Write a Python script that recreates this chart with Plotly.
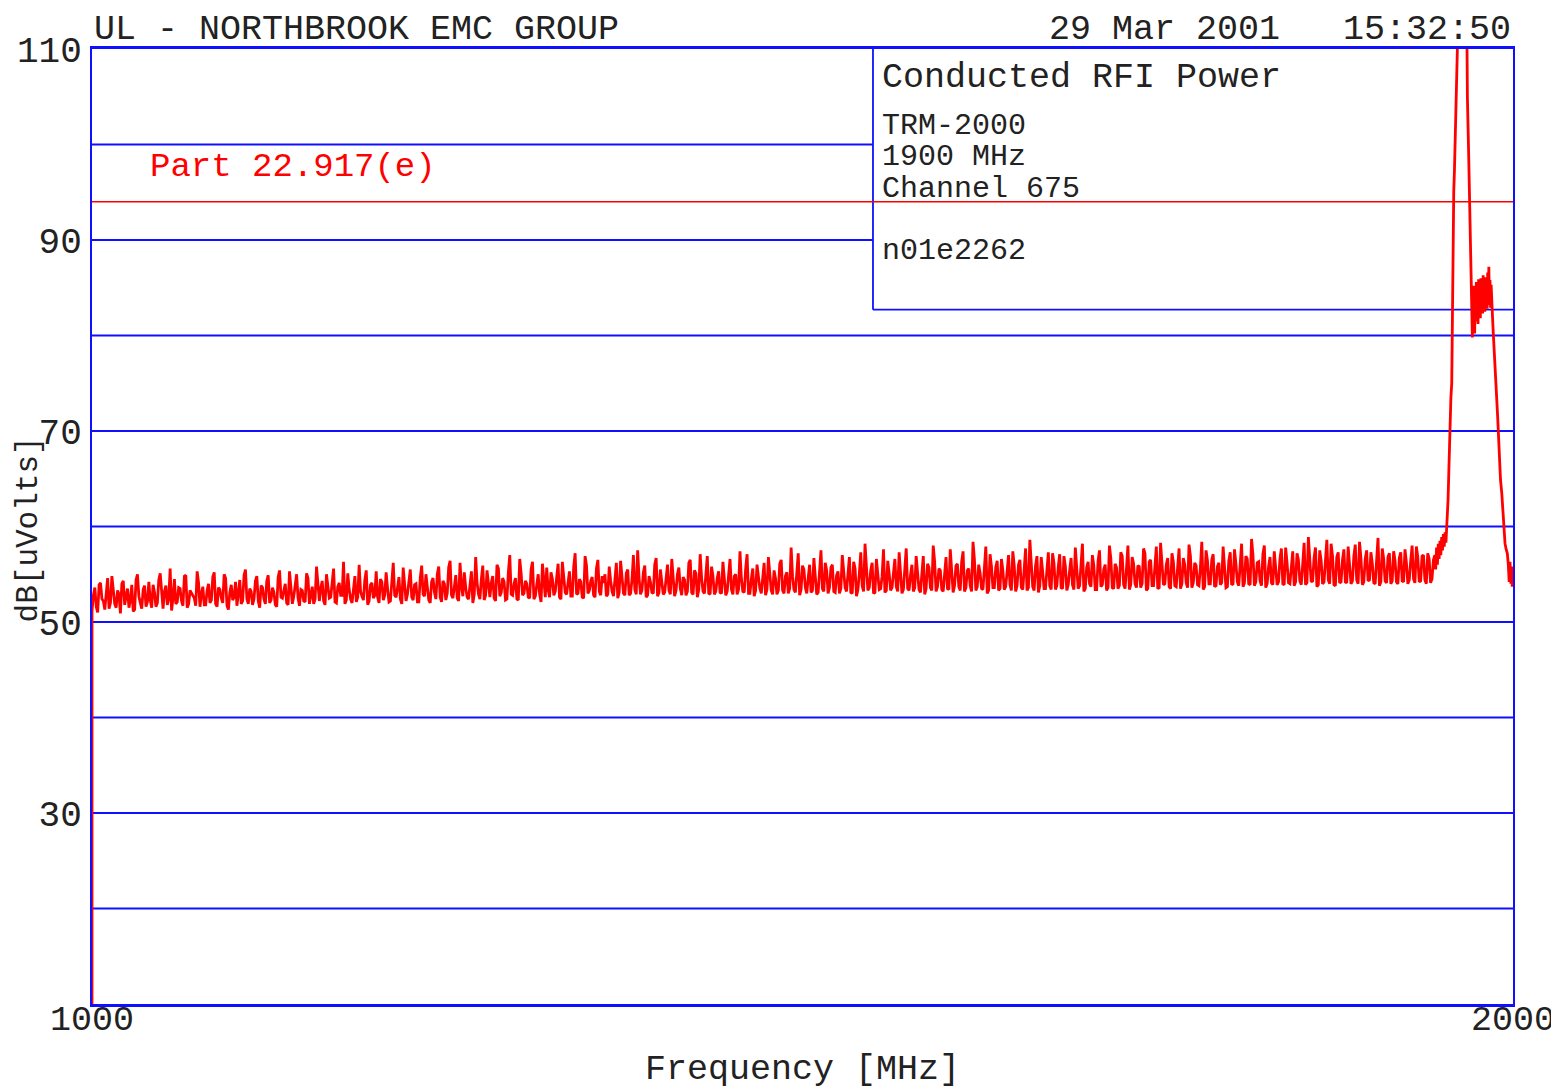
import plotly.graph_objects as go

# ---------------- data ----------------
# sweep start point (trace begins at bottom of the screen)
start_freq = [1000.0]
start_db = [10.0]

# noise floor 1000 .. 1944 MHz, readings at even MHz
noise_start_mhz = 1000.0
noise_step_mhz = 2.0
noise_db_even = [
    51.2, 53.6, 51.0, 54.1, 52.2, 53.0, 51.4, 54.8, 51.9, 53.3, 50.9, 54.3, 52.6, 51.5, 53.9, 51.3, 55.0, 52.0, 53.4, 51.6,
    54.2, 51.5, 53.1, 52.0, 55.1, 51.4, 53.8, 52.4, 51.2, 54.5, 52.1, 53.5, 51.7, 54.9, 51.9, 53.0, 52.5, 55.3, 51.6, 53.7,
    51.8, 54.0, 52.3, 55.2, 51.6, 53.4, 52.0, 54.6, 51.3, 53.9, 52.6, 51.7, 54.4, 52.2, 55.5, 51.9, 53.2, 52.4, 54.8, 51.5,
    53.6, 51.9, 54.9, 52.3, 53.1, 51.6, 55.4, 52.5, 54.0, 51.8, 53.7, 52.7, 55.0, 51.7, 53.3, 52.1, 54.6, 52.9, 51.9, 55.8,
    52.2, 54.3, 51.8, 53.8, 52.6, 55.6, 52.0, 54.1, 52.8, 51.9, 55.1, 52.4, 53.6, 52.1, 56.0, 52.7, 54.4, 51.8, 53.9, 52.5,
    55.3, 52.0, 54.2, 52.8, 53.5, 52.2, 56.2, 52.6, 54.7, 51.9, 53.8, 52.9, 55.5, 52.3, 54.0, 52.1, 55.9, 52.7, 53.4, 52.0,
    54.6, 52.4, 55.8, 52.1, 54.0, 53.0, 56.4, 52.5, 54.9, 52.2, 53.7, 55.2, 52.6, 54.3, 52.0, 56.8, 52.9, 54.5, 52.3, 55.4,
    52.6, 54.8, 52.2, 55.6, 53.1, 54.2, 52.4, 57.0, 52.8, 54.6, 52.3, 55.1, 53.0, 54.0, 52.5, 56.3, 52.7, 55.0, 52.1, 54.4,
    55.7, 52.6, 54.5, 53.2, 56.1, 52.4, 54.9, 52.9, 55.3, 52.7, 57.2, 53.0, 54.2, 52.5, 55.9, 53.3, 54.7, 52.6, 56.5, 52.8,
    54.1, 52.7, 55.8, 53.2, 54.6, 52.5, 56.4, 53.0, 55.1, 52.8, 54.4, 53.4, 57.5, 52.9, 55.2, 52.6, 54.8, 53.1, 56.0, 52.7,
    55.5, 52.9, 54.3, 53.3, 56.6, 52.7, 55.0, 53.5, 54.7, 52.8, 56.2, 53.1, 55.4, 52.6, 57.1, 53.2, 54.9, 53.0, 55.8, 52.9,
    54.6, 53.1, 56.3, 52.8, 55.2, 53.4, 54.8, 52.9, 57.4, 53.2, 55.6, 53.0, 54.5, 52.7, 56.0, 53.5, 55.1, 52.8, 56.8, 53.3,
    55.4, 52.9, 56.1, 53.3, 54.8, 53.0, 57.8, 53.4, 55.3, 52.8, 55.9, 53.6, 54.6, 53.1, 56.7, 52.9, 55.0, 53.5, 56.2, 53.0,
    55.7, 53.2, 54.9, 53.0, 57.0, 53.6, 55.5, 53.1, 56.3, 52.7, 55.1, 53.8, 58.2, 53.3, 55.4, 53.0, 56.6, 53.4, 54.8, 53.1,
    56.4, 53.3, 55.2, 53.7, 57.3, 53.0, 55.8, 53.5, 54.9, 53.2, 56.9, 53.4, 55.3, 52.9, 56.1, 53.6, 58.0, 53.2, 55.6, 53.4,
    55.0, 53.5, 57.6, 53.1, 55.9, 53.7, 56.3, 53.2, 55.4, 53.8, 58.4, 53.3, 56.0, 53.5, 55.2, 53.0, 57.1, 53.6, 55.7, 53.3,
    56.6, 53.4, 55.3, 53.9, 57.4, 53.2, 56.0, 53.6, 55.5, 53.3, 58.6, 53.7, 55.9, 53.1, 56.8, 53.5, 55.2, 53.8, 57.2, 53.4,
    55.8, 53.6, 56.9, 53.3, 55.4, 53.9, 57.8, 53.5, 56.2, 53.2, 55.7, 54.0, 57.0, 53.4, 56.4, 53.7, 55.5, 53.3, 58.0, 53.6,
    56.1, 53.5, 57.3, 53.9, 55.6, 53.4, 56.8, 54.0, 55.9, 53.6, 57.7, 53.3, 56.3, 53.8, 55.8, 53.5, 58.3, 53.9, 56.0, 53.7,
    57.2, 53.8, 55.9, 53.5, 56.7, 54.1, 58.1, 53.6, 56.2, 53.9, 55.7, 53.4, 57.5, 54.0, 56.5, 53.7, 55.8, 53.9, 57.9, 53.6,
    56.4, 53.9, 57.6, 54.2, 55.9, 53.7, 56.9, 54.0, 58.7, 53.8, 56.2, 54.3, 57.1, 53.6, 55.8, 54.1, 57.4, 53.9, 56.6, 54.0,
    57.8, 54.1, 56.3, 53.8, 57.2, 54.3, 56.0, 53.9, 58.9, 54.2, 56.7, 53.7, 57.5, 54.0, 56.1, 54.4, 58.2, 53.9, 56.8, 54.1,
    56.5, 54.2, 57.9, 54.0, 56.9, 54.4, 58.4, 53.9, 56.6, 54.3, 57.3, 54.1, 56.2, 53.8, 57.7, 54.3, 56.8, 54.0, 57.4, 54.2,
    56.7, 54.3, 57.6, 54.0, 56.4, 54.5, 57.9, 54.2, 56.9, 54.4, 57.2, 54.1, 56.5,
]
# noise floor readings at odd MHz, 1001 .. 1943
noise_db_odd = [
    52.8, 51.6, 53.9, 52.4, 51.3, 54.6, 52.0, 53.2, 51.5, 52.9, 54.0, 51.8, 53.5, 52.3, 51.1, 54.4, 52.7, 51.4, 53.8, 52.1,
    52.3, 53.9, 51.6, 54.4, 52.7, 53.2, 51.8, 55.6, 52.5, 51.9, 53.6, 52.2, 54.8, 51.5, 53.3, 52.8, 51.7, 54.1, 52.9, 51.8,
    53.3, 52.0, 54.7, 51.9, 53.6, 52.5, 55.0, 51.7, 53.1, 52.3, 54.2, 53.0, 51.9, 54.9, 52.4, 53.5, 51.8, 54.3, 52.2, 53.8,
    52.4, 54.3, 52.0, 53.6, 51.8, 54.7, 52.6, 53.3, 52.0, 55.3, 51.9, 54.1, 52.5, 53.4, 52.2, 55.1, 51.9, 53.7, 52.4, 54.0,
    53.5, 52.2, 55.0, 52.5, 54.1, 52.1, 53.7, 52.8, 56.3, 52.3, 53.4, 52.0, 54.8, 52.6, 53.2, 52.3, 55.4, 52.2, 54.1, 52.8,
    52.6, 54.5, 52.3, 55.2, 52.1, 54.0, 52.8, 53.6, 52.4, 55.7, 52.2, 54.3, 52.6, 53.9, 52.1, 54.6, 52.9, 55.0, 52.3, 54.2,
    53.1, 55.0, 52.6, 54.3, 52.3, 55.7, 52.8, 54.0, 52.5, 56.2, 52.7, 53.6, 52.4, 55.3, 52.9, 54.1, 52.4, 55.9, 52.8, 53.8,
    54.1, 52.5, 56.0, 52.7, 54.6, 52.3, 55.2, 52.9, 54.0, 52.4, 56.6, 52.8, 54.3, 52.6, 55.5, 52.4, 53.9, 52.9, 56.1, 52.6,
    53.4, 55.2, 52.8, 54.7, 52.6, 56.3, 53.1, 54.2, 52.7, 55.8, 52.9, 54.5, 52.6, 56.9, 53.0, 54.3, 52.8, 55.6, 53.2, 54.8,
    55.0, 52.9, 54.3, 52.7, 56.2, 53.1, 54.8, 52.8, 55.5, 53.0, 57.0, 52.9, 54.6, 53.3, 55.9, 52.8, 54.2, 53.0, 56.7, 53.1,
    54.2, 53.1, 56.0, 52.9, 54.9, 53.3, 55.7, 52.8, 54.4, 53.2, 56.5, 52.9, 55.1, 53.4, 54.6, 53.0, 56.9, 52.9, 54.8, 53.2,
    55.3, 53.0, 54.7, 53.2, 56.6, 52.9, 55.0, 53.4, 54.5, 53.1, 57.1, 53.0, 55.6, 53.3, 54.9, 53.0, 56.2, 53.4, 55.2, 52.9,
    54.6, 53.3, 56.5, 53.0, 55.2, 53.5, 54.8, 53.1, 57.2, 53.4, 55.5, 53.0, 56.0, 53.3, 54.7, 53.1, 57.5, 53.2, 55.4, 53.6,
    56.0, 53.1, 55.3, 53.5, 54.9, 53.2, 56.8, 53.0, 55.6, 53.4, 57.3, 53.2, 55.1, 53.6, 56.2, 53.1, 55.0, 53.5, 57.6, 53.3,
    55.1, 53.6, 56.6, 53.2, 55.5, 53.4, 57.7, 53.3, 56.0, 53.6, 55.2, 53.1, 56.9, 53.5, 55.7, 53.3, 56.3, 53.7, 55.4, 53.2,
    56.8, 53.4, 55.3, 53.8, 56.1, 53.3, 57.4, 53.6, 55.6, 53.2, 56.5, 53.7, 55.1, 53.4, 57.9, 53.3, 55.8, 53.6, 56.4, 53.5,
    55.4, 53.7, 57.0, 53.3, 55.9, 53.8, 56.5, 53.4, 57.7, 53.6, 55.6, 53.3, 56.9, 53.8, 55.3, 53.5, 57.3, 53.4, 56.1, 53.8,
    57.1, 53.5, 55.8, 53.9, 56.7, 53.4, 55.6, 53.8, 58.2, 53.5, 56.3, 53.7, 55.9, 53.4, 57.5, 53.9, 56.0, 53.6, 56.6, 53.5,
    55.7, 53.8, 56.9, 53.5, 58.0, 53.9, 56.1, 53.6, 55.8, 54.0, 57.2, 53.5, 56.5, 53.8, 57.9, 53.6, 55.9, 54.0, 56.7, 53.5,
    56.3, 53.7, 57.7, 54.0, 56.0, 53.6, 56.9, 54.1, 55.9, 53.8, 58.4, 53.7, 56.4, 54.0, 57.1, 53.8, 56.2, 54.1, 55.9, 53.7,
    57.3, 54.0, 56.1, 53.8, 58.2, 54.1, 56.6, 53.9, 57.0, 54.2, 56.3, 53.8, 58.0, 54.0, 56.8, 53.9, 56.0, 54.2, 57.7, 53.9,
    56.2, 54.0, 57.4, 54.2, 56.5, 53.9, 58.3, 54.1, 56.0, 54.3, 57.8, 53.9, 56.4, 54.2, 58.6, 54.0, 56.9, 53.8, 57.3, 54.2,
    57.6, 54.1, 56.3, 54.3, 58.1, 54.0, 56.7, 54.2, 57.5, 54.4, 56.1, 54.0, 58.8, 54.2, 56.6, 54.1, 57.2, 54.3, 56.4, 54.0,
    57.3, 54.2, 56.2, 54.4, 58.0, 54.1, 56.8, 54.3, 57.0, 54.0, 56.6, 54.5,
]

# carrier region 1945 .. 2000 MHz
peak_freq = [
    1945.0, 1945.6, 1946.2, 1946.8, 1947.4, 1948.0, 1948.6, 1949.2, 1949.8, 1950.4,
    1951.0, 1951.6, 1952.2, 1952.8, 1953.3, 1953.8, 1954.3, 1954.8, 1955.3, 1955.8,
    1956.3, 1956.9, 1957.1, 1957.3, 1957.6, 1957.9, 1958.3, 1958.8, 1959.2, 1959.5,
    1959.9, 1960.3, 1960.7, 1961.5, 1963.0, 1965.0, 1967.0, 1967.6, 1967.9, 1968.3,
    1968.8, 1969.4, 1970.0, 1970.4, 1970.9, 1971.4, 1971.8, 1972.2, 1972.6, 1973.0,
    1973.4, 1973.8, 1974.2, 1974.6, 1975.0, 1975.4, 1975.8, 1976.2, 1976.6, 1977.0,
    1977.4, 1977.8, 1978.2, 1978.6, 1979.0, 1979.4, 1979.8, 1980.2, 1980.6, 1981.0,
    1981.4, 1981.8, 1982.2, 1982.6, 1983.0, 1983.4, 1983.8, 1984.2, 1984.6, 1985.0,
    1985.5, 1986.1, 1986.6, 1987.3, 1988.0, 1988.5, 1989.2, 1989.7, 1990.5, 1991.2,
    1992.1, 1992.7, 1993.2, 1993.8, 1994.4, 1995.2, 1996.0, 1996.7, 1997.3, 1997.9,
    1998.5, 1999.0, 1999.5, 2000.0,
]
peak_db = [
    57.0, 55.5, 57.8, 56.0, 58.2, 56.6, 58.5, 57.0, 58.9, 57.5,
    59.2, 57.9, 59.4, 58.3, 59.6, 61.5, 62.8, 65.5, 68.7, 71.0,
    73.5, 75.0, 79.5, 83.7, 88.0, 92.4, 95.0, 97.3, 100.5, 102.9,
    104.6, 107.0, 111.0, 114.0, 116.0, 117.0, 114.0, 111.0, 105.0, 103.3,
    99.0, 94.5, 91.0, 88.7, 84.0, 79.8, 84.5, 81.0, 85.2, 80.2,
    84.0, 81.5, 85.6, 82.0, 84.8, 81.2, 85.9, 82.6, 85.1, 81.8,
    86.0, 82.9, 85.4, 82.3, 86.3, 83.0, 85.7, 82.5, 86.1, 83.4,
    85.5, 82.8, 86.6, 83.2, 87.2, 83.5, 85.8, 82.9, 85.3, 83.0,
    82.2, 80.3, 78.5, 77.0, 74.6, 73.5, 71.5, 69.8, 67.0, 64.9,
    63.5, 62.0, 60.0, 59.0, 58.2, 57.6, 57.2, 56.0, 54.2, 56.3,
    54.0, 55.8, 53.7, 55.0,
]

limit_freq = [1000, 2000]
limit_db = [94, 94]

y_tick_vals = [30, 50, 70, 90, 110]
y_tick_text = ["30", "50", "70", "90", "110"]
x_tick_vals = [1000, 2000]
x_tick_text = ["1000", "2000"]
grid_db = [20, 30, 40, 50, 60, 70, 80, 90, 100]

info_lines = ["TRM-2000", "1900 MHz", "Channel 675"]
info_db = [101.9, 98.7, 95.3]

# ---------------- build ----------------
noise_freq, noise_db = [], []
for i, v in enumerate(noise_db_even):
    f = noise_start_mhz + noise_step_mhz * i
    noise_freq.append(f)
    noise_db.append(v)
    if i < len(noise_db_odd):
        noise_freq.append(f + noise_step_mhz / 2)
        noise_db.append(noise_db_odd[i])

freq = start_freq + noise_freq + peak_freq
db = start_db + noise_db + peak_db

BLUE = "#1010ff"
RED = "#ff0000"
FONT = "Liberation Mono"
TXT = "#222222"

box_left = 1549.6
box_bottom = 82.7

fig = go.Figure()
fig.add_trace(go.Scatter(x=freq, y=db, mode="lines",
                         line=dict(color=RED, width=2.8), hoverinfo="skip"))
fig.add_trace(go.Scatter(x=limit_freq, y=limit_db, mode="lines",
                         line=dict(color=RED, width=1.6), hoverinfo="skip"))

shapes = []
for g in grid_db:
    x1 = box_left if g > box_bottom else 2000
    shapes.append(dict(type="line", xref="x", yref="y", x0=1000, x1=x1, y0=g, y1=g,
                       line=dict(color=BLUE, width=1.8), layer="below"))
shapes.append(dict(type="line", xref="x", yref="y", x0=box_left, x1=box_left, y0=box_bottom, y1=110,
                   line=dict(color=BLUE, width=1.8), layer="below"))
shapes.append(dict(type="line", xref="x", yref="y", x0=box_left, x1=2000, y0=box_bottom, y1=box_bottom,
                   line=dict(color=BLUE, width=1.8), layer="below"))

ann = []
header_y = 1 + 41 / 955  # top edge of the figure, in plot fractions
ann.append(dict(text="UL - NORTHBROOK EMC GROUP", xref="paper", yref="paper", x=0, y=header_y,
                xanchor="left", yanchor="top", showarrow=False,
                font=dict(family=FONT, size=35, color=TXT)))
ann.append(dict(text="29 Mar 2001   15:32:50", xref="paper", yref="paper", x=1.0, y=header_y,
                xanchor="right", yanchor="top", showarrow=False,
                font=dict(family=FONT, size=35, color=TXT)))
ann.append(dict(text="Conducted RFI Power", xref="x", yref="y", x=1554.5, y=106.96,
                xanchor="left", yanchor="middle", showarrow=False,
                font=dict(family=FONT, size=35, color=TXT)))
for t, yv in zip(info_lines, info_db):
    ann.append(dict(text=t, xref="x", yref="y", x=1554.5, y=yv,
                    xanchor="left", yanchor="middle", showarrow=False,
                    font=dict(family=FONT, size=30, color=TXT)))
ann.append(dict(text="n01e2262", xref="x", yref="y", x=1554.5, y=88.85,
                xanchor="left", yanchor="middle", showarrow=False,
                font=dict(family=FONT, size=30, color=TXT)))
ann.append(dict(text="Part 22.917(e)", xref="x", yref="y", x=1039.4, y=97.6,
                xanchor="left", yanchor="middle", showarrow=False,
                font=dict(family=FONT, size=34, color=RED)))
for xv, xt in zip(x_tick_vals, x_tick_text):
    ann.append(dict(text=xt, xref="x", yref="paper", x=xv, y=-0.0178,
                    xanchor="center", yanchor="middle", showarrow=False,
                    font=dict(family=FONT, size=35, color=TXT)))
ann.append(dict(text="Frequency [MHz]", xref="paper", yref="paper", x=0.5, y=-0.0691,
                xanchor="center", yanchor="middle", showarrow=False,
                font=dict(family=FONT, size=35, color=TXT)))
ann.append(dict(text="dB[uVolts]", xref="paper", yref="paper", x=-0.045, y=0.497,
                xanchor="center", yanchor="middle", showarrow=False, textangle=-90,
                font=dict(family=FONT, size=31, color=TXT)))

# the page adds an 8 px body margin, so the figure is 8 px smaller and shifted
fig.update_layout(
    width=1551, height=1083,
    margin=dict(l=84, r=46, t=41, b=87, autoexpand=False),
    paper_bgcolor="white", plot_bgcolor="white",
    showlegend=False,
    shapes=shapes, annotations=ann,
    xaxis=dict(range=[1000, 2000], showgrid=False, zeroline=False, automargin=False,
               showline=True, mirror=True, linecolor=BLUE, linewidth=2.5,
               tickvals=x_tick_vals, showticklabels=False, ticks="",
               layer="below traces"),
    yaxis=dict(range=[10, 110], showgrid=False, zeroline=False, automargin=False,
               showline=True, mirror=True, linecolor=BLUE, linewidth=2,
               tickvals=y_tick_vals, ticktext=y_tick_text,
               ticks="outside", ticklen=1, tickcolor="rgba(0,0,0,0)",
               tickfont=dict(family=FONT, size=36, color=TXT),
               layer="below traces"),
)

fig.write_html("out.html")
